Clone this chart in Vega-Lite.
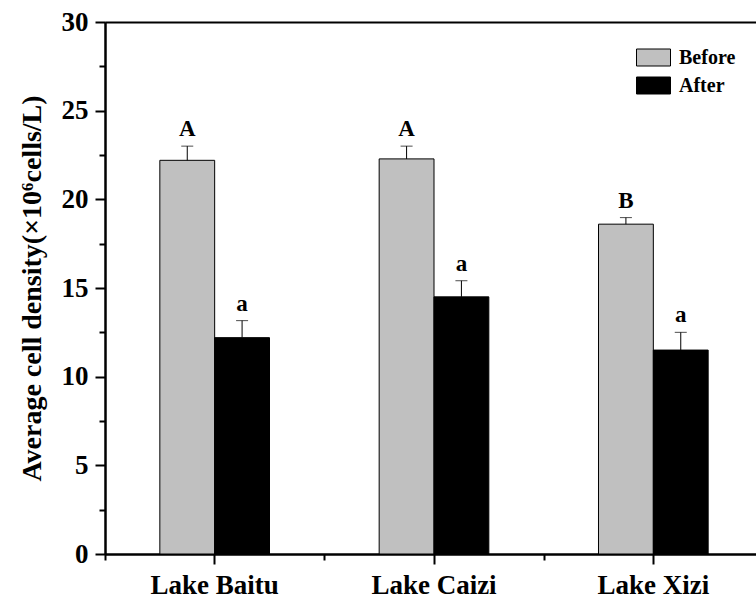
{
  "$schema": "https://vega.github.io/schema/vega-lite/v6.json",
  "autosize": {"type": "none"},
  "padding": {"left": 105, "top": 22, "right": 0, "bottom": 44},
  "width": 651,
  "height": 532,
  "background": "white",
  "config": {
    "view": {"stroke": null},
    "font": "Liberation Serif",
    "axis": {
      "domainColor": "black",
      "tickColor": "black",
      "labelColor": "black",
      "labelFont": "Liberation Serif",
      "labelFontWeight": "bold",
      "titleFont": "Liberation Serif",
      "titleFontWeight": "bold",
      "titleColor": "black",
      "grid": false
    },
    "legend": {"labelFont": "Liberation Serif", "labelFontWeight": "bold", "labelColor": "black"}
  },
  "data": {
    "values": [
      {"lake": "Lake Baitu", "period": "Before", "mean": 22.2, "hi": 23.0, "sig": "A"},
      {"lake": "Lake Baitu", "period": "After", "mean": 12.2, "hi": 13.16, "sig": "a"},
      {"lake": "Lake Caizi", "period": "Before", "mean": 22.28, "hi": 23.0, "sig": "A"},
      {"lake": "Lake Caizi", "period": "After", "mean": 14.5, "hi": 15.41, "sig": "a"},
      {"lake": "Lake Xizi", "period": "Before", "mean": 18.6, "hi": 18.97, "sig": "B"},
      {"lake": "Lake Xizi", "period": "After", "mean": 11.5, "hi": 12.5, "sig": "a"}
    ]
  },
  "resolve": {"scale": {"x": "shared", "y": "shared"}, "axis": {"x": "independent", "y": "independent"}},
  "layer": [
    {
      "mark": {"type": "bar", "stroke": "black", "strokeWidth": 1},
      "encoding": {
        "x": {"field": "lake", "type": "nominal", "sort": ["Lake Baitu", "Lake Caizi", "Lake Xizi"],
          "scale": {"paddingInner": 0, "paddingOuter": 0, "range": [0, 658]},
          "axis": {"orient": "bottom", "title": null, "labelAngle": 0, "labelFontSize": 27, "labelPadding": 8, "tickSize": 10, "tickWidth": 2, "domainWidth": 2}},
        "xOffset": {"field": "period", "type": "nominal", "sort": ["Before", "After"], "scale": {"paddingInner": 0, "paddingOuter": 1.0}},
        "y": {"field": "mean", "type": "quantitative", "scale": {"domain": [0, 30], "nice": false},
          "axis": {"orient": "left", "values": [0, 5, 10, 15, 20, 25, 30], "tickSize": 10, "tickWidth": 2, "domainWidth": 2, "labelFontSize": 27, "labelPadding": 7,
            "title": "Average cell density(×10⁶cells/L)", "titleFontSize": 28, "titlePadding": 15}},
        "fill": {"field": "period", "type": "nominal", "sort": ["Before", "After"],
          "scale": {"domain": ["Before", "After"], "range": ["#c0c0c0", "#000000"]},
          "legend": {"title": null, "orient": "none", "legendX": 531, "legendY": 18, "padding": 0,
            "symbolType": "M-1,-0.5L1,-0.5L1,0.5L-1,0.5Z", "symbolSize": 1156, "symbolStrokeColor": "black", "symbolStrokeWidth": 1,
            "labelFontSize": 20, "labelOffset": 8, "rowPadding": 0}}
      }
    },
    {
      "mark": {"type": "rule", "color": "black", "strokeWidth": 1},
      "encoding": {
        "x": {"field": "lake", "type": "nominal", "sort": ["Lake Baitu", "Lake Caizi", "Lake Xizi"],
          "axis": {"orient": "bottom", "title": null, "labels": false, "domain": true, "domainWidth": 2, "tickBand": "extent", "tickSize": 6, "tickWidth": 2}},
        "xOffset": {"field": "period", "type": "nominal", "sort": ["Before", "After"]},
        "y": {"field": "mean", "type": "quantitative",
          "axis": {"orient": "left", "title": null, "labels": false, "domain": true, "domainWidth": 2, "values": [2.5, 7.5, 12.5, 17.5, 22.5, 27.5], "tickSize": 6, "tickWidth": 2}},
        "y2": {"field": "hi"}
      }
    },
    {
      "mark": {"type": "tick", "orient": "horizontal", "color": "black", "size": 12, "thickness": 1},
      "encoding": {
        "x": {"field": "lake", "type": "nominal", "sort": ["Lake Baitu", "Lake Caizi", "Lake Xizi"],
          "axis": {"orient": "top", "title": null, "labels": false, "ticks": false, "domain": true, "domainWidth": 2}},
        "xOffset": {"field": "period", "type": "nominal", "sort": ["Before", "After"]},
        "y": {"field": "hi", "type": "quantitative", "axis": null}
      }
    },
    {
      "mark": {"type": "text", "font": "Liberation Serif", "fontWeight": "bold", "fontSize": 23, "dy": -10, "baseline": "alphabetic", "color": "black"},
      "encoding": {
        "x": {"field": "lake", "type": "nominal", "sort": ["Lake Baitu", "Lake Caizi", "Lake Xizi"], "axis": null},
        "xOffset": {"field": "period", "type": "nominal", "sort": ["Before", "After"]},
        "y": {"field": "hi", "type": "quantitative", "axis": null},
        "text": {"field": "sig"}
      }
    }
  ]
}
